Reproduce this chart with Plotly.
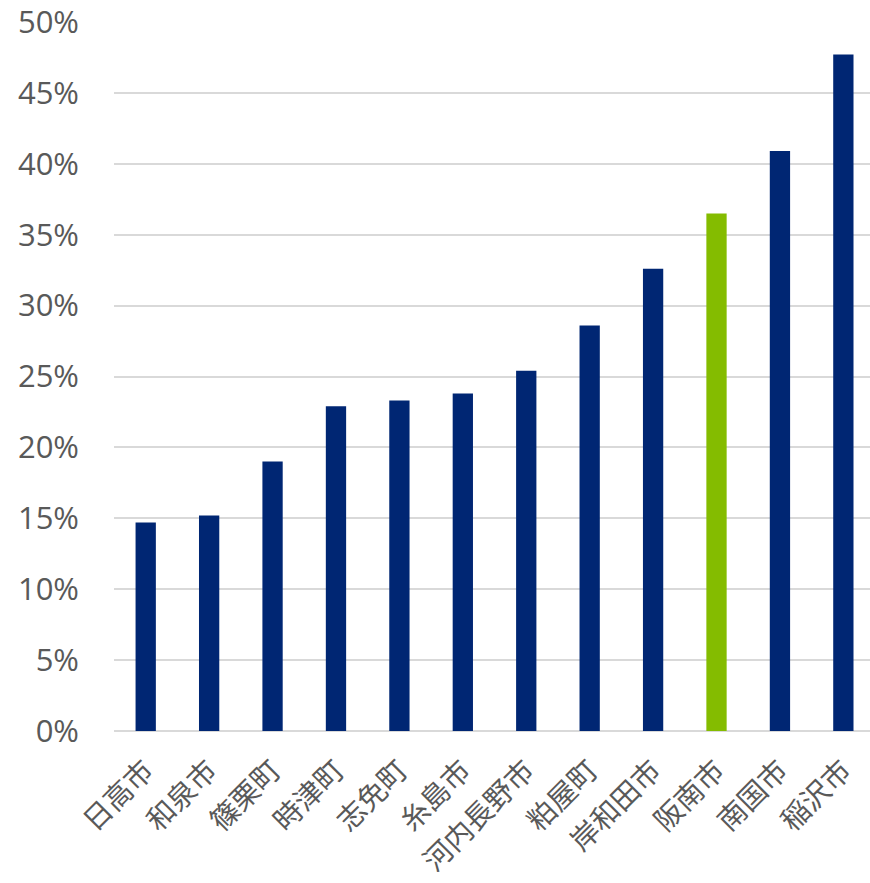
import plotly.graph_objects as go

categories = ["日高市", "和泉市", "篠栗町", "時津町", "志免町", "糸島市",
              "河内長野市", "粕屋町", "岸和田市", "阪南市", "南国市", "稲沢市"]
values = [14.7, 15.2, 19.0, 22.9, 23.3, 23.8, 25.4, 28.6, 32.6, 36.5, 40.9, 47.7]
highlight = "阪南市"
tick_vals = [0, 5, 10, 15, 20, 25, 30, 35, 40, 45, 50]
tick_text = [f"{v}%" for v in tick_vals]

NAVY = "#002673"
GREEN = "#84BC00"
colors = [GREEN if c == highlight else NAVY for c in categories]

fig = go.Figure(go.Bar(
    x=categories, y=values, marker=dict(color=colors, line=dict(width=0)),
    width=0.32,
))

fig.update_layout(
    width=870, height=883,
    margin=dict(l=114, r=0, t=22, b=152),
    plot_bgcolor="white", paper_bgcolor="white",
    showlegend=False,
    font=dict(family="Open Sans, Noto Sans CJK JP", color="#595959"),
)
fig.update_yaxes(
    range=[0, 50], tickvals=tick_vals, ticktext=tick_text,
    showgrid=True, gridcolor="#D9D9D9", gridwidth=1.5,
    zeroline=True, zerolinecolor="#D9D9D9", zerolinewidth=2,
    tickfont=dict(size=31, family="Open Sans", color="#595959"),
    ticklabelstandoff=34, ticks="", ticklabeloverflow="allow",
)
fig.update_xaxes(
    range=[-0.5, 11.42], tickangle=-45,
    tickfont=dict(size=28.5, family="Noto Sans CJK JP", color="#595959"),
    showline=False, ticks="", ticklabelstandoff=16, ticklabeloverflow="allow",
)

fig.write_html("out.html")
